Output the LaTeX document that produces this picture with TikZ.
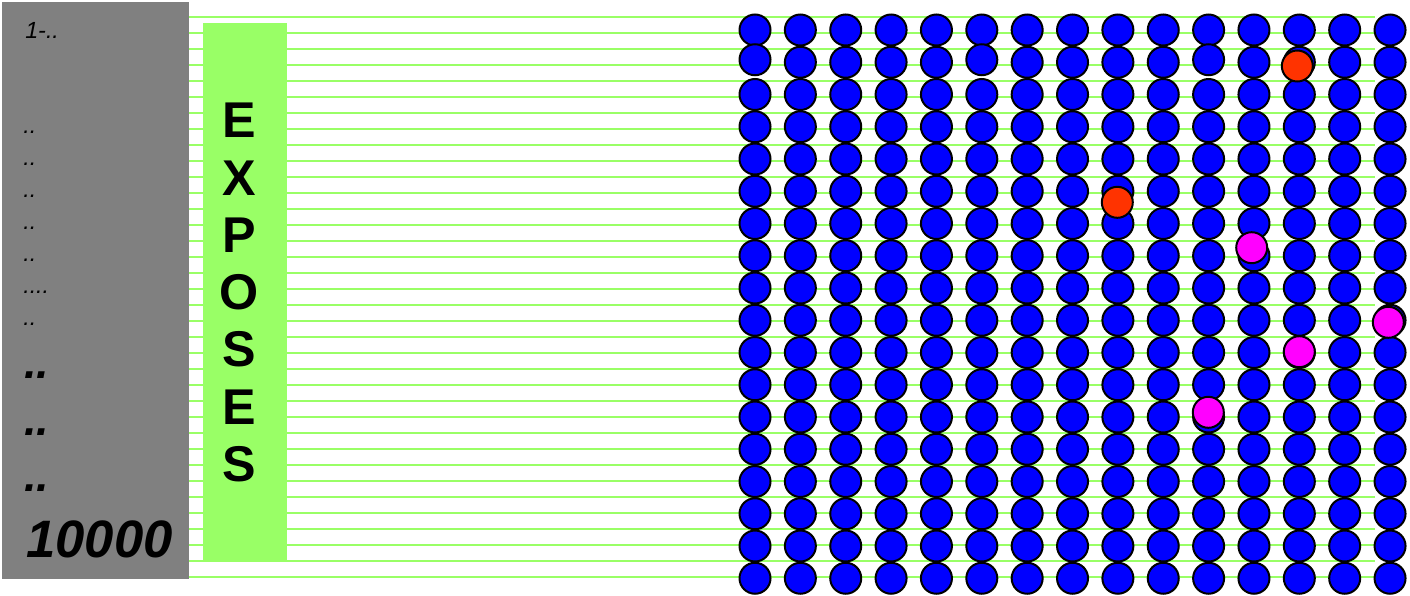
\documentclass[tikz,border=0pt]{standalone}
\usepackage{fontspec}
\setmainfont{Liberation Sans}
\definecolor{gbar}{HTML}{808080}
\definecolor{lgreen}{HTML}{99FF66}
\definecolor{dotblue}{HTML}{0000FF}
\definecolor{dotred}{HTML}{FF3300}
\definecolor{dotmag}{HTML}{FF00FF}
\tikzset{
  gline/.style={draw=lgreen, line width=1.6pt},
  ball/.style={circle, draw=black, line width=1.5pt, inner sep=0pt, minimum size=23.25pt},
  blueball/.style={ball, fill=dotblue},
  redball/.style={ball, fill=dotred},
  magball/.style={ball, fill=dotmag},
  smalllab/.style={inner sep=0pt, anchor=base west, font=\fontsize{17.5pt}{18pt}\selectfont\itshape},
  biglab/.style={inner sep=0pt, anchor=base west, font=\fontsize{34pt}{36pt}\selectfont\bfseries\itshape},
  numlab/.style={inner sep=0pt, anchor=base west, font=\fontsize{39.5pt}{42pt}\selectfont\bfseries\itshape},
  expo/.style={inner sep=0pt, anchor=base, font=\fontsize{37.7pt}{40pt}\selectfont\bfseries}
}
\begin{document}
\begin{tikzpicture}[x=0.75pt, y=-0.75pt]
\useasboundingbox (0,0) rectangle (1410,596);
% horizontal green lines
\foreach \k in {0,...,35} {
  \coordinate (ls\k) at (189, 16.7+16*\k);
  \coordinate (le\k) at (1375, 16.7+16*\k);
  \draw[gline] (ls\k) -- (le\k);
}
% gray panel
\fill[gbar] (2,2) rectangle (189,579);
% green bar
\fill[lgreen] (203,23) rectangle (287,561);
% left labels
\node[smalllab] (l0) at (25,38.3) {1-..};
\node[smalllab] (l1) at (23,133) {..};
\node[smalllab] (l2) at (23,165) {..};
\node[smalllab] (l3) at (23,197) {..};
\node[smalllab] (l4) at (23,229) {..};
\node[smalllab] (l5) at (23,261) {..};
\node[smalllab] (l6) at (23,293) {....};
\node[smalllab] (l7) at (23,325) {..};
\node[biglab] (b1) at (24,378.5) {..};
\node[biglab] (b2) at (24,435.5) {..};
\node[biglab] (b3) at (24,491.5) {..};
\node[numlab] (num) at (26,557) {10000};
% EXPOSES
\foreach \l [count=\k from 0] in {E,X,P,O,S,E,S} {
  \node[expo] (e\k) at (239.5, 137.7+57.3*\k) {\l};
}
% grid of balls
\foreach \i in {0,...,14} {
  \foreach \j in {0,...,17} {
    \pgfmathsetmacro{\dy}{((\i==0 || \i==5 || \i==10) && \j==1) ? -2.5 : 0}
    \node[blueball] (c-\i-\j) at (755+45.36*\i, 30+32.25*\j+\dy) {};
  }
}
% highlighted balls
\node[redball] (r1) at (1297.3,66) {};
\node[redball] (r2) at (1117.3,202.3) {};
\node[magball] (m1) at (1251.7,247.7) {};
\node[magball] (m2) at (1388.3,322.3) {};
\node[magball] (m3) at (1299.3,351.7) {};
\node[magball] (m4) at (1208.3,412.3) {};
\end{tikzpicture}
\end{document}
